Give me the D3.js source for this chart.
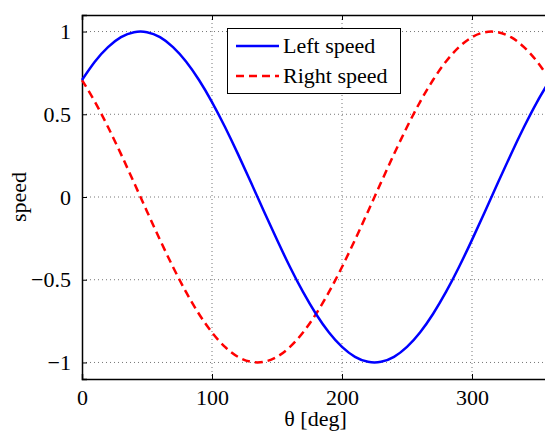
<!DOCTYPE html>
<html><head><meta charset="utf-8">
<script src="https://cdn.jsdelivr.net/npm/d3@7/dist/d3.min.js"></script>
<style>body{margin:0;background:#fff}svg{display:block}</style>
</head><body>
<script>
const theta = [0,10,20,30,40,50,60,70,80,90,100,110,120,130,140,150,160,170,180,190,200,210,220,230,240,250,260,270,280,290,300,310,320,330,340,350,360];
const leftSpeed = [0.707,0.819,0.906,0.966,0.996,0.996,0.966,0.906,0.819,0.707,0.574,0.423,0.259,0.087,-0.087,-0.259,-0.423,-0.574,-0.707,-0.819,-0.906,-0.966,-0.996,-0.996,-0.966,-0.906,-0.819,-0.707,-0.574,-0.423,-0.259,-0.087,0.087,0.259,0.423,0.574,0.707];
const rightSpeed = [0.707,0.574,0.423,0.259,0.087,-0.087,-0.259,-0.423,-0.574,-0.707,-0.819,-0.906,-0.966,-0.996,-0.996,-0.966,-0.906,-0.819,-0.707,-0.574,-0.423,-0.259,-0.087,0.087,0.259,0.423,0.574,0.707,0.819,0.906,0.966,0.996,0.996,0.966,0.906,0.819,0.707];
const xTicks = [0,100,200,300];
const yTicks = [-1,-0.5,0,0.5,1];
const yTickLabels = ["\u22121","\u22120.5","0","0.5","1"];
const seriesNames = ["Left speed","Right speed"];

const W = 545, H = 433;
const font = "'Liberation Serif','Times New Roman',serif";
const svg = d3.select("body").append("svg").attr("width", W).attr("height", H);

const x = d3.scaleLinear().domain([0,360]).range([82, 550]);
const y = d3.scaleLinear().domain([-1.1,1.1]).range([379, 15]);

// grid
const grid = svg.append("g").attr("stroke","#777").attr("stroke-width",1).attr("stroke-dasharray","1,3");
xTicks.filter(d=>d>0).forEach(d=>{
  grid.append("line").attr("x1",x(d)).attr("x2",x(d)).attr("y1",y(1.1)).attr("y2",y(-1.1));
});
yTicks.forEach(d=>{
  grid.append("line").attr("x1",x(0)).attr("x2",x(360)).attr("y1",y(d)).attr("y2",y(d));
});

// axes
const xAxisB = d3.axisBottom(x).tickValues(xTicks).tickSize(-5).tickPadding(10).tickFormat(d3.format("d"));
const xAxisT = d3.axisTop(x).tickValues(xTicks).tickSize(-5).tickFormat("");
const yAxisL = d3.axisLeft(y).tickValues(yTicks).tickSize(-5).tickPadding(11).tickFormat((d,i)=>yTickLabels[i]);

function styleAxis(g){
  g.select(".domain").attr("stroke","#000").attr("stroke-width",1.5);
  g.selectAll(".tick line").attr("stroke","#000").attr("stroke-width",1);
  g.selectAll("text").attr("font-family",font).attr("font-size",22).attr("fill","#000");
}
svg.append("g").attr("transform",`translate(0,${y(-1.1)})`).call(xAxisB).call(styleAxis);
svg.append("g").attr("transform",`translate(0,${y(1.1)})`).call(xAxisT).call(styleAxis);
svg.append("g").attr("transform",`translate(${x(0)},0)`).call(yAxisL).call(styleAxis);

// lines
const line = d3.line().x(d=>x(d[0])).y(d=>y(d[1])).curve(d3.curveNatural);
svg.append("path").datum(theta.map((t,i)=>[t,rightSpeed[i]]))
  .attr("d",line).attr("fill","none").attr("stroke","#ff0000").attr("stroke-width",2.5).attr("stroke-dasharray","8,5");
svg.append("path").datum(theta.map((t,i)=>[t,leftSpeed[i]]))
  .attr("d",line).attr("fill","none").attr("stroke","#0000ff").attr("stroke-width",2.5);

// legend
const lg = svg.append("g");
lg.append("rect").attr("x",227.5).attr("y",28.5).attr("width",173).attr("height",65)
  .attr("fill","#fff").attr("stroke","#000").attr("stroke-width",1);
const colors = ["#0000ff","#ff0000"], dashes = [null,"8,5"];
seriesNames.forEach((n,i)=>{
  const cy = 46 + i*30;
  lg.append("line").attr("x1",236).attr("x2",279).attr("y1",cy).attr("y2",cy)
    .attr("stroke",colors[i]).attr("stroke-width",2.5).attr("stroke-dasharray",dashes[i]);
  lg.append("text").attr("x",283).attr("y",cy+7).text(n)
    .attr("font-family",font).attr("font-size",22).attr("fill","#000");
});

// axis labels
svg.append("text").attr("x",(x(0)+545)/2 + 2).attr("y",426).attr("text-anchor","middle")
  .attr("font-family",font).attr("font-size",22).text("\u03b8 [deg]");
svg.append("text").attr("transform",`translate(26,${(y(1.1)+y(-1.1))/2}) rotate(-90)`).attr("text-anchor","middle")
  .attr("font-family",font).attr("font-size",22).text("speed");
</script>
</body></html>
